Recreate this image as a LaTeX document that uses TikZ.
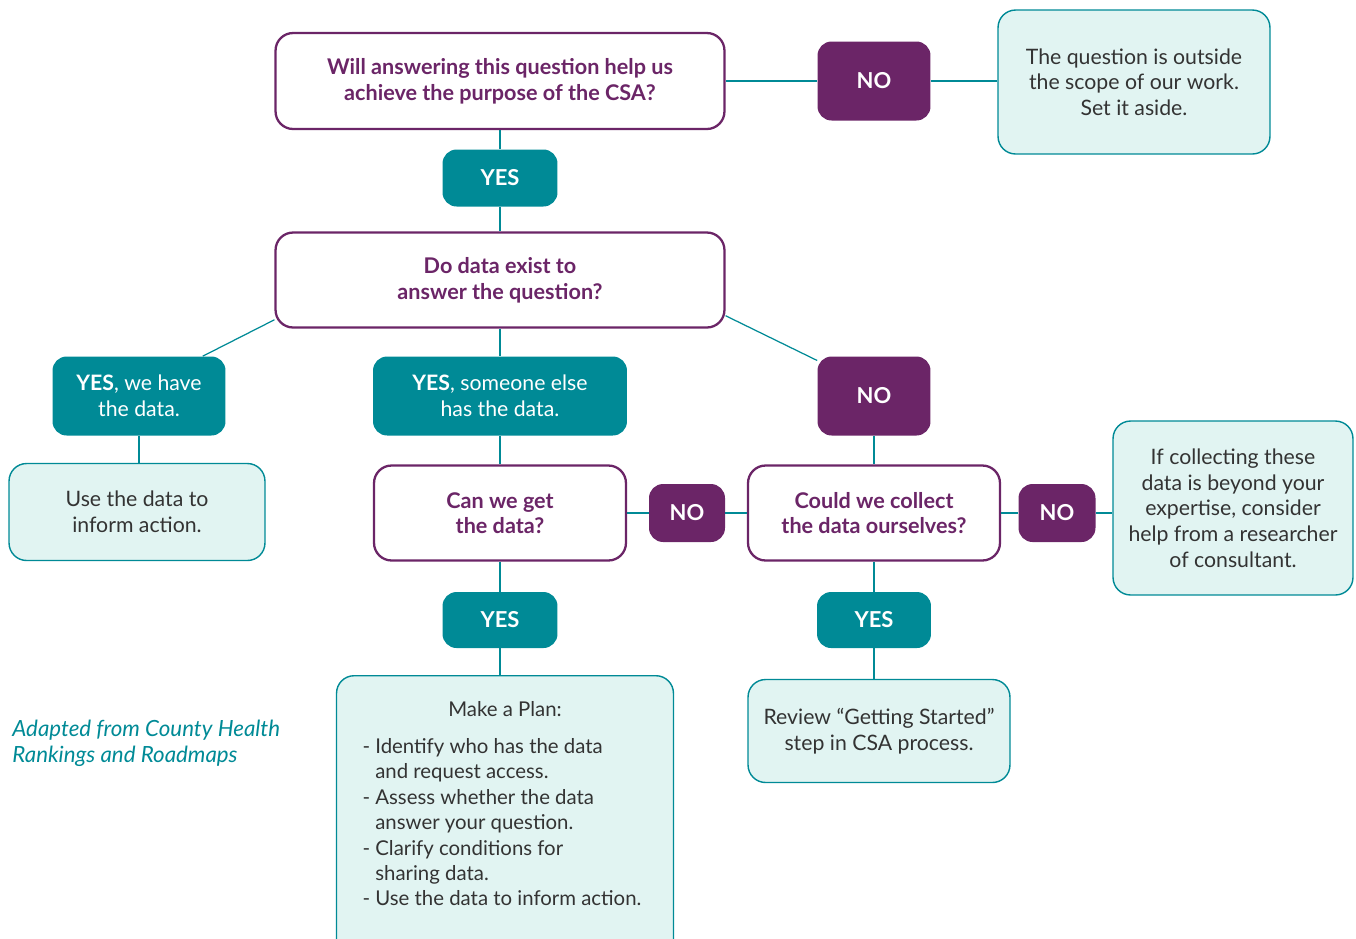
\documentclass[tikz,border=0pt]{standalone}
\usepackage{fontspec}
\setmainfont{Lato}
\definecolor{csaTeal}{HTML}{008A96}
\definecolor{csaPurple}{HTML}{6B2567}
\definecolor{csaMint}{HTML}{E1F4F2}
\definecolor{csaInk}{HTML}{333333}
\newcommand{\bodysize}{\fontsize{12.1}{14.6}\selectfont}
\newcommand{\asksize}{\fontsize{12.3}{14.6}\selectfont}
\newcommand{\plansize}{\fontsize{11.6}{14.5}\selectfont}
\begin{document}
\begin{tikzpicture}[x=0.02cm, y=-0.02cm,
	question/.style={draw=csaPurple, line width=1.3pt, fill=white, rounded corners=10pt, text=csaPurple, font=\asksize\bfseries, align=center},
	nobox/.style={fill=csaPurple, rounded corners=8pt, text=white, font=\fontsize{12.5}{15}\selectfont\bfseries},
	yesbox/.style={fill=csaTeal, rounded corners=8pt, text=white, font=\fontsize{12.5}{15}\selectfont\bfseries},
	result/.style={draw=csaTeal, line width=0.8pt, fill=csaMint, rounded corners=10pt, text=csaInk, font=\bodysize, align=center},
	link/.style={draw=csaTeal, line width=0.7pt}]
				\useasboundingbox (0,0) rectangle (1356,938);
				\clip (0,0) rectangle (1356,938);
				% First question and its NO branch
				\node[question, minimum width=8.98cm, minimum height=1.92cm] (purpose) at (500,81) {Will answering this question help us\\achieve the purpose of the CSA?};
				\node[nobox, minimum width=2.26cm, minimum height=1.58cm] (noPurpose) at (874,81) {NO};
				\node[result, minimum width=5.44cm, minimum height=2.88cm] (outScope) at (1134,82) {The question is outside\\the scope of our work.\\Set it aside.};
				\node[yesbox, minimum width=2.3cm, minimum height=1.14cm] (yesPurpose) at (500,178) {YES};
				% Second question
				\node[question, minimum width=8.98cm, minimum height=1.9cm] (exist) at (500,280) {Do data exist to\\answer the question?};
				\node[yesbox, font=\bodysize\mdseries, align=center, minimum width=3.46cm, minimum height=1.58cm] (yesHave) at (139,396) {\textbf{YES}, we have\\the data.};
				\node[yesbox, font=\bodysize\mdseries, align=center, minimum width=5.08cm, minimum height=1.58cm] (yesElse) at (500,396) {\textbf{YES}, someone else\\has the data.};
				\node[nobox, minimum width=2.26cm, minimum height=1.58cm] (noExist) at (874,396) {NO};
				% We have the data
				\node[result, minimum width=5.12cm, minimum height=1.94cm] (useData) at (137,512) {Use the data to\\inform action.};
				% Someone else has it
				\node[question, minimum width=5.04cm, minimum height=1.9cm] (canGet) at (500,513) {Can we get\\the data?};
				\node[nobox, minimum width=1.52cm, minimum height=1.16cm] (noGet) at (687,513) {NO};
				\node[yesbox, minimum width=2.3cm, minimum height=1.12cm] (yesGet) at (500,620) {YES};
				\node[result, anchor=north, font=\plansize, minimum width=6.74cm, inner xsep=10pt, inner ysep=14.5pt] (plan) at (505,675) {\parbox[c][5.3cm][t]{5.7cm}{\raggedright
					\makebox[\linewidth]{Make a Plan:}\\[6.5pt]
					- Identify who has the data\\\phantom{- }and request access.\\
					- Assess whether the data\\\phantom{- }answer your question.\\
					- Clarify conditions for\\\phantom{- }sharing data.\\
					- Use the data to inform action.}};
				% Collecting the data ourselves
				\node[question, minimum width=5.04cm, minimum height=1.9cm] (collect) at (874,513) {Could we collect\\the data ourselves?};
				\node[nobox, minimum width=1.54cm, minimum height=1.16cm] (noCollect) at (1057,513) {NO};
				\node[result, minimum width=4.8cm, minimum height=3.48cm] (helper) at (1233,508) {If collecting these\\data is beyond your\\expertise, consider\\help from a researcher\\of consultant.};
				\node[yesbox, minimum width=2.28cm, minimum height=1.12cm] (yesCollect) at (874,620) {YES};
				\node[result, minimum width=5.24cm, minimum height=2.06cm] (review) at (879,731) {Review “Getting Started”\\step in CSA process.};
				% Source note
				\node[anchor=west, inner sep=0pt, align=left, text=csaTeal, font=\fontsize{12.7}{14.6}\selectfont\itshape] (source) at (12,743) {Adapted from County Health\\Rankings and Roadmaps};
				% Connectors
				\draw[link] (purpose.east) -- (noPurpose.west);
				\draw[link] (noPurpose.east) -- (noPurpose.east -| outScope.west);
				\draw[link] (purpose.south) -- (yesPurpose.north);
				\draw[link] (yesPurpose.south) -- (exist.north);
				\draw[link] (exist.190) -- (yesHave.32);
				\draw[link] (exist.south) -- (yesElse.north);
				\draw[link] (exist.-9) -- (noExist.148);
				\draw[link] (yesHave.south) -- (yesHave.south |- useData.north);
				\draw[link] (yesElse.south) -- (canGet.north);
				\draw[link] (canGet.east) -- (noGet.west);
				\draw[link] (noGet.east) -- (collect.west);
				\draw[link] (canGet.south) -- (yesGet.north);
				\draw[link] (yesGet.south) -- (yesGet.south |- plan.north);
				\draw[link] (noExist.south) -- (collect.north);
				\draw[link] (collect.east) -- (noCollect.west);
				\draw[link] (noCollect.east) -- (noCollect.east -| helper.west);
				\draw[link] (collect.south) -- (yesCollect.north);
				\draw[link] (yesCollect.south) -- (yesCollect.south |- review.north);
\end{tikzpicture}
\end{document}
